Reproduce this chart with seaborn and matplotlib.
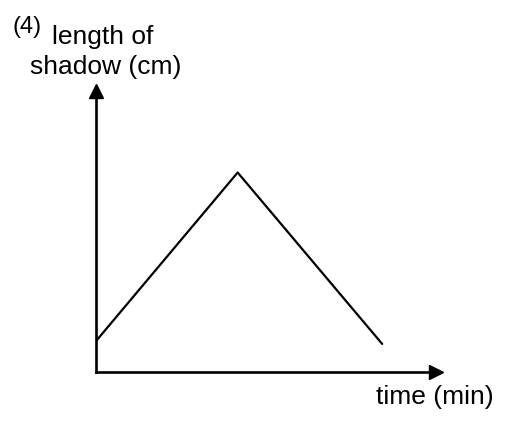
import numpy as np
import pandas as pd
import seaborn as sns
import matplotlib
matplotlib.use("Agg")
import matplotlib.pyplot as plt

# values (arbitrary units)
time_min = [0, 5.0, 10.1]
shadow_cm = [1.1, 7.1, 1.0]

sns.set_style("white")
plt.rcParams['font.family'] = ['Liberation Sans', 'DejaVu Sans']
plt.rcParams['text.color'] = 'black'

df = pd.DataFrame({'time': time_min, 'shadow': shadow_cm})

fig = plt.figure(figsize=(5.09, 4.28), dpi=100)
ax = fig.add_axes([0.1886, 0.1308, 0.668, 0.6565])

sns.lineplot(data=df, x='time', y='shadow', ax=ax, color='black', linewidth=1.6, sort=False)

ax.set_xlim(0, 12)
ax.set_ylim(0, 10)
ax.set_xticks([])
ax.set_yticks([])
ax.set_xlabel('')
ax.set_ylabel('')
for side in ['top', 'right']:
    ax.spines[side].set_visible(False)
for side in ['left', 'bottom']:
    ax.spines[side].set_linewidth(1.9)
    ax.spines[side].set_color('black')

# arrow heads on the axes
ax.plot(1, 0, '>k', transform=ax.get_yaxis_transform(), clip_on=False, markersize=10)
ax.plot(0, 1, '^k', transform=ax.get_xaxis_transform(), clip_on=False, markersize=10)

fig.text(12 / 509, 1 - 33 / 428, '(4)', fontsize=17, va='baseline', color='black')
fig.text(52 / 509, 1 - 44 / 428, 'length of', fontsize=19, va='baseline', color='black')
fig.text(30 / 509, 1 - 74 / 428, 'shadow (cm)', fontsize=19, va='baseline', color='black')
fig.text(376 / 509, 1 - 404 / 428, 'time (min)', fontsize=19, va='baseline', color='black')

fig.savefig('out.png', dpi=100)
